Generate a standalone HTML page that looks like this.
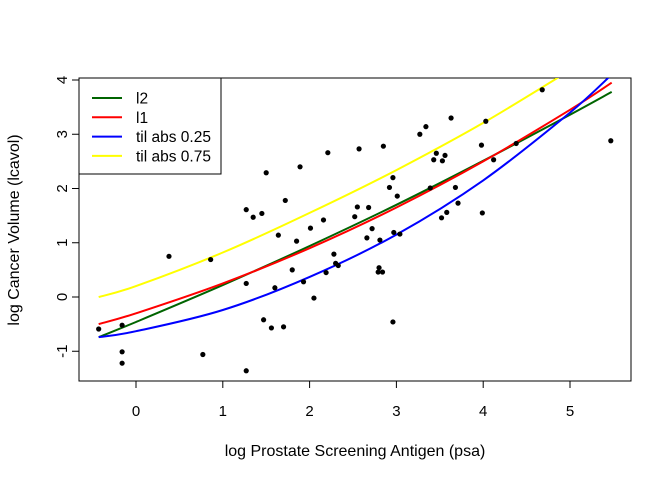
<!DOCTYPE html>
<html><head><meta charset="utf-8"><style>
body{margin:0;background:#fff}
svg{display:block;font-family:"Liberation Sans",Arial,sans-serif}
</style></head><body>
<svg id="chart" width="672" height="480" viewBox="0 0 672 480">
<defs><clipPath id="clip"><rect x="79" y="78" width="552" height="303"/></clipPath></defs>
<rect x="79" y="78" width="552" height="303" fill="none" stroke="#000"/>
<g id="axes"></g>
<g id="curves" clip-path="url(#clip)"></g>
<g id="points"></g>
<text x="355" y="456" text-anchor="middle" font-size="16">log Prostate Screening Antigen (psa)</text>
<text transform="translate(19,230) rotate(-90)" text-anchor="middle" font-size="16">log Cancer Volume (lcavol)</text>
<g id="legend">
<rect x="79" y="78" width="142" height="96" fill="#fff" stroke="#000"/>
</g>
</svg>
<script>
const xTicks=[0,1,2,3,4,5];
const yTicks=[-1,0,1,2,3,4];
const ptX=[-0.43,-0.16,-0.16,-0.16,0.38,0.77,0.86,1.27,1.35,1.45,1.50,1.27,1.27,1.47,1.56,1.70,1.60,1.64,1.72,1.80,1.85,1.89,1.93,2.05,2.01,2.16,2.21,2.28,2.30,2.33,2.19,2.52,2.55,2.57,2.66,2.68,2.85,2.96,2.92,3.01,2.72,2.81,2.97,3.04,2.80,2.79,2.84,2.96,3.27,3.34,3.63,3.46,3.43,3.53,3.56,3.39,3.68,3.71,3.52,3.58,3.98,4.03,4.12,3.99,4.38,4.68,5.47];
const ptY=[-0.59,-0.52,-1.01,-1.22,0.75,-1.06,0.69,1.61,1.47,1.54,2.29,0.25,-1.36,-0.42,-0.57,-0.55,0.17,1.14,1.78,0.50,1.03,2.40,0.28,-0.02,1.27,1.42,2.66,0.79,0.62,0.58,0.45,1.48,1.66,2.73,1.09,1.65,2.78,2.20,2.02,1.86,1.26,1.05,1.19,1.16,0.54,0.46,0.46,-0.46,3.00,3.14,3.30,2.65,2.53,2.51,2.61,2.01,2.02,1.73,1.46,1.56,2.80,3.24,2.53,1.55,2.83,3.82,2.88];
const curveX=[-0.43,0,1,2,3,4,5,5.48];
const l2Y=[-0.74,-0.46,0.22,0.94,1.70,2.51,3.36,3.78];
const l1Y=[-0.50,-0.30,0.25,0.90,1.65,2.50,3.45,3.95];
const til25Y=[-0.74,-0.63,-0.24,0.37,1.15,2.15,3.40,4.10];
const til75Y=[0.00,0.20,0.82,1.55,2.34,3.21,4.18,4.67];
const seriesNames=["l2","l1","til abs 0.25","til abs 0.75"];
const seriesColors=["#006400","#ff0000","#0000ff","#ffff00"];
const X=v=>136+v*86.8, Y=v=>297-v*54.25;
const NS="http://www.w3.org/2000/svg";
function mk(t,a,p){const e=document.createElementNS(NS,t);for(const k in a)e.setAttribute(k,a[k]);p.appendChild(e);return e;}
function smooth(pts){let d='M'+pts[0][0]+' '+pts[0][1];
 for(let i=0;i<pts.length-1;i++){const p0=pts[Math.max(i-1,0)],p1=pts[i],p2=pts[i+1],p3=pts[Math.min(i+2,pts.length-1)];
  const c1=[p1[0]+(p2[0]-p0[0])/6,p1[1]+(p2[1]-p0[1])/6],c2=[p2[0]-(p3[0]-p1[0])/6,p2[1]-(p3[1]-p1[1])/6];
  d+=` C${c1[0].toFixed(1)} ${c1[1].toFixed(1)} ${c2[0].toFixed(1)} ${c2[1].toFixed(1)} ${p2[0].toFixed(1)} ${p2[1].toFixed(1)}`;}
 return d;}
const ax=document.getElementById('axes');
mk('line',{x1:X(0),x2:X(5),y1:381,y2:381,stroke:'#000'},ax);
xTicks.forEach(t=>{mk('line',{x1:X(t),x2:X(t),y1:381,y2:388,stroke:'#000'},ax);
 const e=mk('text',{x:X(t),y:416,'text-anchor':'middle','font-size':15},ax);e.textContent=t;
 
 });
mk('line',{x1:79,x2:79,y1:Y(-1),y2:Y(4),stroke:'#000'},ax);
yTicks.forEach(t=>{mk('line',{x1:72,x2:79,y1:Y(t),y2:Y(t),stroke:'#000'},ax);
 const e=mk('text',{transform:`translate(67,${Y(t)}) rotate(-90)`,'text-anchor':'middle','font-size':15},ax);e.textContent=t;
 
 });
const cv=document.getElementById('curves');
[l2Y,l1Y,til25Y,til75Y].forEach((ys,i)=>{
 const d=smooth(curveX.map((x,j)=>[X(x),Y(ys[j])]));
 const p=mk('path',{d:d,fill:'none',stroke:seriesColors[i],'stroke-width':2},cv);
 
 });
const pg=document.getElementById('points');
ptX.forEach((x,i)=>{const c=mk('circle',{cx:X(x),cy:Y(ptY[i]),r:2.6,fill:'#000'},pg);
 
 });
const lg=document.getElementById('legend');
seriesNames.forEach((n,i)=>{const y=98+i*19.3;
 const l=mk('line',{x1:92,x2:122,y1:y,y2:y,stroke:seriesColors[i],'stroke-width':2},lg);
 
 
 const t=mk('text',{x:136,y:y+5.5,'font-size':15.5},lg);t.textContent=n;
 
 });
</script>
</body></html>
